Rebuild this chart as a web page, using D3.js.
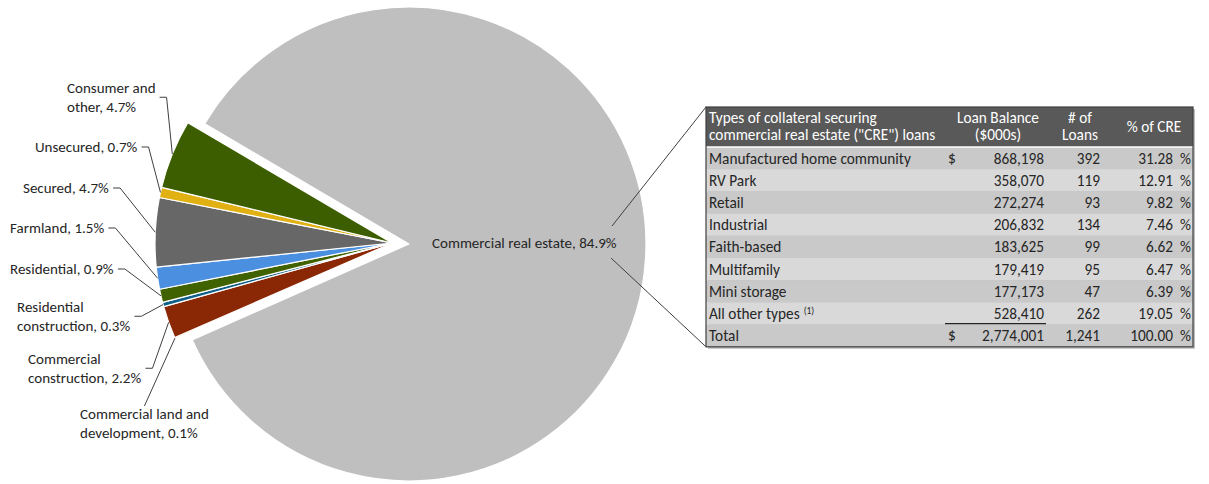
<!DOCTYPE html>
<meta charset="utf-8">
<style>
body { margin: 0; background: #fff; }
text { font-family: Carlito, Calibri, Lato, sans-serif; fill: #262626; }
.lbl { font-size: 15px; }
.tbl { font-size: 15.3px; }
.hdr { fill: #fff; }
.leader { fill: none; stroke: #404040; stroke-width: 1; }
</style>

<div id="chart"></div>
<script src="https://cdnjs.cloudflare.com/ajax/libs/d3/7.8.5/d3.min.js"></script>
<script>
var w = 1209,
  h = 484;

// loan portfolio by type (%), in pie order starting with CRE
var sliceNames = ["Commercial real estate", "Commercial land and development", "Commercial construction",
  "Residential construction", "Residential", "Farmland", "Secured", "Unsecured", "Consumer and other"];
var slicePct = [84.9, 0.1, 2.2, 0.3, 0.9, 1.5, 4.7, 0.7, 4.7];
var sliceColors = ["#bfbfbf", "#f7d59a", "#8a2806", "#0f5f88", "#416200", "#4a8fe0", "#676767", "#e1b012", "#3d5e00"];

// CRE collateral table
var creTypes = ["Manufactured home community", "RV Park", "Retail", "Industrial", "Faith-based",
  "Multifamily", "Mini storage", "All other types"];
var creBalance = [868198, 358070, 272274, 206832, 183625, 179419, 177173, 528410];
var creLoans = [392, 119, 93, 134, 99, 95, 47, 262];
var crePct = [31.28, 12.91, 9.82, 7.46, 6.62, 6.47, 6.39, 19.05];
var totalBalance = 2774001,
  totalLoans = 1241,
  totalPct = 100.00;

// layout
var cx = 392, cy = 243, radius = 237, explode = 17, startDeg = -59.5;
// label placement for the small slices: [left x, first baseline, leader side, words on first line]
var labelPos = [null, [80, 419, "top", 3], [28, 364, "right", 1], [17, 312, "right", 1], [10, 274, "right", 0],
  [10, 233, "right", 0], [23, 193, "right", 0], [35, 152, "right", 0], [67, 93, "right", 2]];

var svg = d3.select("#chart")
  .append("svg")
  .attr("width", w)
  .attr("height", h);

var start = startDeg * Math.PI / 180;
var pie = d3.pie().sort(null).startAngle(start).endAngle(start + 2 * Math.PI);
var arcs = pie(slicePct);

var arc = d3.arc().innerRadius(0).outerRadius(radius);
var edge = d3.arc().innerRadius(radius).outerRadius(radius);

var g = svg.append("g").attr("transform", "translate(" + cx + "," + cy + ")");

g.selectAll("path.slice")
  .data(arcs)
  .enter()
  .append("path")
  .attr("class", "slice")
  .attr("d", arc)
  .attr("fill", function (d, i) { return sliceColors[i]; })
  .attr("stroke", "#fff")
  .attr("stroke-width", 1.2)
  .attr("stroke-linejoin", "round")
  .attr("transform", function (d, i) {
    if (i > 0) return null;
    var a = (d.startAngle + d.endAngle) / 2;
    return "translate(" + (explode * Math.sin(a)) + "," + (-explode * Math.cos(a)) + ")";
  });

// labels + leader lines for the small slices
arcs.forEach(function (d, i) {
  if (i == 0) return;
  var p = labelPos[i];
  var txt = sliceNames[i] + ", " + slicePct[i].toFixed(1) + "%";
  var words = txt.split(" ");
  var lines = p[3] ? [words.slice(0, p[3]).join(" "), words.slice(p[3]).join(" ")] : [txt];
  var t = svg.append("text").attr("class", "lbl");
  lines.forEach(function (l, k) {
    t.append("tspan").attr("x", p[0]).attr("y", p[1] + k * 18.5).text(l);
  });
  var bb = t.node().getBBox();
  var end = edge.centroid(d);
  var ex = cx + end[0], ey = cy + end[1];
  var pts;
  if (p[2] == "right") {
    var sx = bb.x + bb.width + 4, sy = bb.y + bb.height / 2;
    pts = [[sx, sy], [sx + 7, sy], [ex, ey]];
  } else {
    pts = [[bb.x + bb.width / 2, bb.y + 1], [ex, ey]];
  }
  svg.append("path").attr("class", "leader").attr("d", d3.line()(pts));
});

// CRE label inside the big slice
var creText = sliceNames[0] + ", " + slicePct[0].toFixed(1) + "%";
svg.append("text").attr("class", "lbl")
  .attr("x", cx + explode + 23).attr("y", cy + 5)
  .text(creText);

// table
var tx0 = 706, tx1 = 1193, ty0 = 107, hdrH = 40, rowH = 22.2;
var nRows = creTypes.length + 1;
var tbl = svg.append("g");

// callout lines from the CRE label to the table corners
svg.append("path").attr("class", "leader")
  .attr("d", d3.line()([[612, 226], [tx0, ty0]]));
svg.append("path").attr("class", "leader")
  .attr("d", d3.line()([[611, 258], [tx0, ty0 + hdrH + nRows * rowH]]));

tbl.append("rect")
  .attr("x", tx0 + 2).attr("y", ty0 + 2)
  .attr("width", tx1 - tx0).attr("height", hdrH + nRows * rowH)
  .attr("fill", "#bdbdbd");
tbl.append("rect")
  .attr("x", tx0).attr("y", ty0)
  .attr("width", tx1 - tx0).attr("height", hdrH)
  .attr("fill", "#595959");

var fmt = d3.format(",");
var rows = creTypes.map(function (c, i) {
  return { name: c, bal: fmt(creBalance[i]), n: fmt(creLoans[i]), pct: crePct[i].toFixed(2), dollar: i == 0 };
});
rows.push({ name: "Total", bal: fmt(totalBalance), n: fmt(totalLoans), pct: totalPct.toFixed(2), dollar: true });

var row = tbl.selectAll("g.row")
  .data(rows)
  .enter()
  .append("g")
  .attr("class", "row")
  .attr("transform", function (d, i) { return "translate(0," + (ty0 + hdrH + i * rowH) + ")"; });

row.append("rect")
  .attr("x", tx0).attr("width", tx1 - tx0).attr("height", rowH)
  .attr("fill", function (d, i) { return i % 2 == 0 ? "#c9c9c9" : "#d9d9d9"; });

row.append("text").attr("class", "tbl").attr("x", 709).attr("y", 16.5)
  .text(function (d) { return d.name; })
  .filter(function (d, i) { return i == creTypes.length - 1; })
  .append("tspan").attr("dx", 4).attr("dy", -5).style("font-size", "9.5px").text("(1)");
row.append("text").attr("class", "tbl").attr("x", 948).attr("y", 16.5)
  .text(function (d) { return d.dollar ? "$" : ""; });
row.append("text").attr("class", "tbl").attr("x", 1044).attr("y", 16.5).attr("text-anchor", "end")
  .text(function (d) { return d.bal; });
row.append("text").attr("class", "tbl").attr("x", 1100).attr("y", 16.5).attr("text-anchor", "end")
  .text(function (d) { return d.n; });
row.append("text").attr("class", "tbl").attr("x", 1173).attr("y", 16.5).attr("text-anchor", "end")
  .text(function (d) { return d.pct; });
row.append("text").attr("class", "tbl").attr("x", 1180).attr("y", 16.5)
  .text("%");

// white rule under header, total rule above balance column
tbl.append("line").attr("x1", tx0).attr("x2", tx1).attr("y1", ty0 + hdrH).attr("y2", ty0 + hdrH)
  .attr("stroke", "#fff").attr("stroke-width", 1.5);
var ty = ty0 + hdrH + creTypes.length * rowH;
tbl.append("line").attr("x1", 945).attr("x2", 1046).attr("y1", ty - 1).attr("y2", ty - 1)
  .attr("stroke", "#262626").attr("stroke-width", 1.2);

// header text
var hdr = [
  { x: 709, anchor: "start", lines: ["Types of collateral securing", "commercial real estate (\"CRE\") loans"] },
  { x: 998, anchor: "middle", lines: ["Loan Balance", "($000s)"] },
  { x: 1080, anchor: "middle", lines: ["# of", "Loans"] },
  { x: 1154, anchor: "middle", lines: ["% of CRE"] }
];
hdr.forEach(function (hd) {
  var t = tbl.append("text").attr("class", "tbl hdr").attr("text-anchor", hd.anchor);
  var y0 = hd.lines.length == 2 ? ty0 + 16 : ty0 + 25;
  hd.lines.forEach(function (l, k) {
    t.append("tspan").attr("x", hd.x).attr("y", y0 + k * 17).text(l);
  });
});

tbl.append("rect")
  .attr("x", tx0).attr("y", ty0)
  .attr("width", tx1 - tx0).attr("height", hdrH + nRows * rowH)
  .attr("fill", "none").attr("stroke", "#404040").attr("stroke-width", 1.2);
</script>
